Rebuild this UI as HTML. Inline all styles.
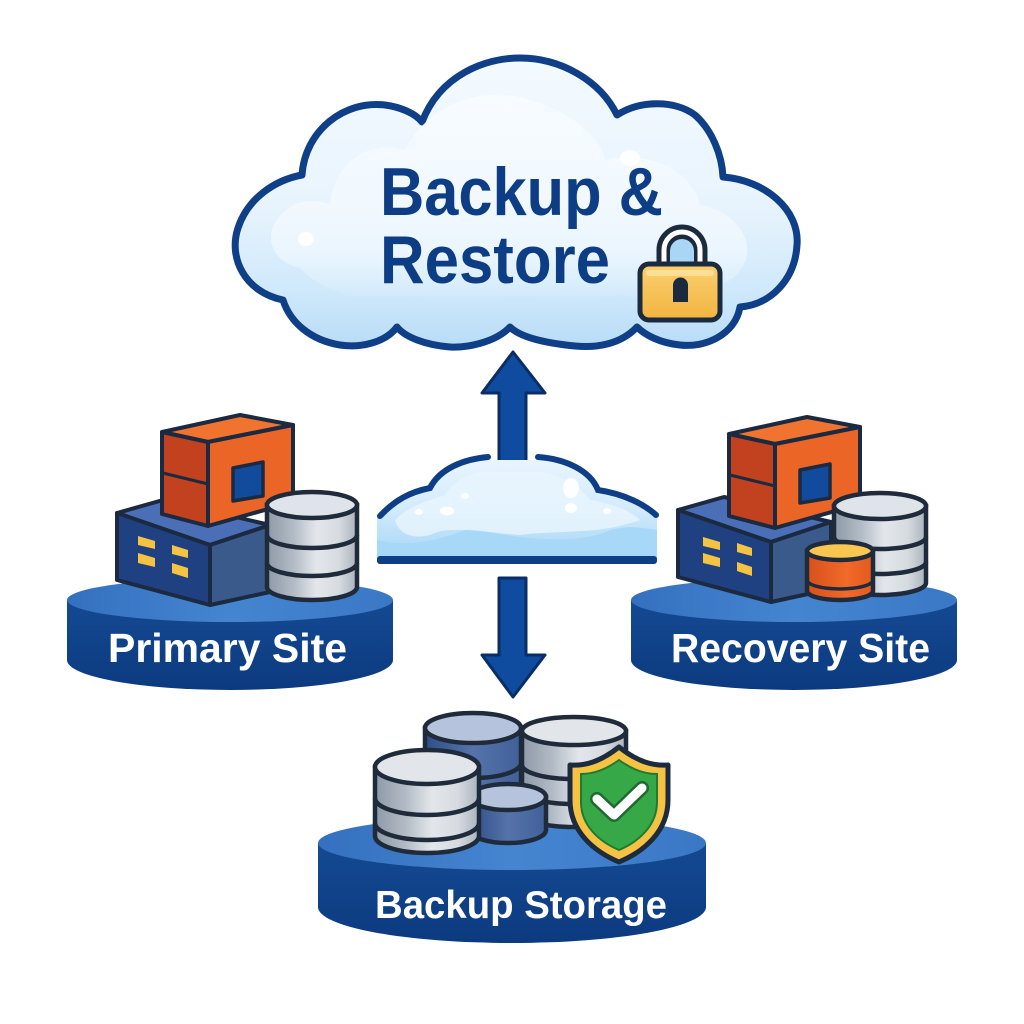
<!DOCTYPE html>
<html>
<head>
<meta charset="utf-8">
<style>
html,body{margin:0;padding:0;background:#fff;}
svg{display:block;}
text{font-family:"Liberation Sans",Arial,sans-serif;font-weight:bold;}
</style>
</head>
<body>
<svg width="1024" height="1024" viewBox="0 0 1024 1024" xmlns="http://www.w3.org/2000/svg">
<defs>
  <linearGradient id="cloudG" x1="0" y1="0" x2="0" y2="1">
    <stop offset="0" stop-color="#f4faff"/>
    <stop offset="0.5" stop-color="#e8f4fd"/>
    <stop offset="0.8" stop-color="#d0e9fb"/>
    <stop offset="1" stop-color="#b8dcf7"/>
  </linearGradient>
  <linearGradient id="hiG" x1="0" y1="0" x2="0" y2="1">
    <stop offset="0" stop-color="#f8fcff" stop-opacity="0.9"/>
    <stop offset="0.75" stop-color="#f2f9ff" stop-opacity="0.7"/>
    <stop offset="1" stop-color="#eef7fe" stop-opacity="0"/>
  </linearGradient>
  <linearGradient id="smallCloudG" x1="0" y1="0" x2="0" y2="1">
    <stop offset="0" stop-color="#e8f5fe"/>
    <stop offset="0.5" stop-color="#d2ebfc"/>
    <stop offset="1" stop-color="#a4d4f6"/>
  </linearGradient>
  <linearGradient id="platTop" x1="0" y1="0" x2="1" y2="0">
    <stop offset="0" stop-color="#3470bf"/>
    <stop offset="0.5" stop-color="#4585d0"/>
    <stop offset="1" stop-color="#3a78c6"/>
  </linearGradient>
  <linearGradient id="platSide" x1="0" y1="0" x2="0" y2="1">
    <stop offset="0" stop-color="#144a93"/>
    <stop offset="1" stop-color="#0c3a7f"/>
  </linearGradient>
  <linearGradient id="grayCyl" x1="0" y1="0" x2="1" y2="0">
    <stop offset="0" stop-color="#8e99a7"/>
    <stop offset="0.3" stop-color="#b3bcc6"/>
    <stop offset="0.55" stop-color="#e3e7eb"/>
    <stop offset="0.8" stop-color="#d6dbe0"/>
    <stop offset="1" stop-color="#a9b2bc"/>
  </linearGradient>
  <linearGradient id="blueCyl" x1="0" y1="0" x2="1" y2="0">
    <stop offset="0" stop-color="#2f4e87"/>
    <stop offset="0.5" stop-color="#5673aa"/>
    <stop offset="1" stop-color="#40609a"/>
  </linearGradient>
  <linearGradient id="orangeCyl" x1="0" y1="0" x2="1" y2="0">
    <stop offset="0" stop-color="#d8501c"/>
    <stop offset="0.6" stop-color="#f06a28"/>
    <stop offset="1" stop-color="#e25a20"/>
  </linearGradient>
  <linearGradient id="lockG" x1="0" y1="0" x2="0" y2="1">
    <stop offset="0" stop-color="#fbd070"/>
    <stop offset="1" stop-color="#f2b440"/>
  </linearGradient>
</defs>

<rect width="1024" height="1024" fill="#ffffff"/>

<!-- ========== BIG CLOUD ========== -->
<path d="M283,300 C245,292 228,258 238,228 C248,198 275,180 302,175
         C305,130 345,100 385,105 C400,107 415,113 422,122
         C440,75 485,58 520,58 C560,58 600,80 617,115
         C640,100 675,100 695,115 C712,130 722,155 723,177
         C765,180 800,210 797,245 C795,280 770,305 740,307
         C735,335 705,348 680,345 C660,343 645,335 637,327
         C620,345 595,348 575,346 C545,343 520,337 510,327
         C495,343 465,348 450,347 C425,345 405,337 397,327
         C385,343 360,348 340,345 C310,340 290,322 283,300 Z"
      fill="url(#cloudG)" stroke="#0f3f87" stroke-width="7" stroke-linejoin="round"/>
<!-- inner highlight -->
<path d="M300,268 C270,262 262,232 282,214 C295,200 315,198 330,205 C335,160 370,140 405,150 C430,100 490,85 530,100 C570,112 600,135 605,160 C640,150 690,165 700,205 C730,210 755,235 745,262 C735,285 710,292 690,288 C670,300 640,302 620,294 C590,306 550,304 520,296 C490,306 440,306 410,296 C380,304 330,300 300,268 Z"
      fill="url(#hiG)"/>
<ellipse cx="306" cy="239" rx="8" ry="7" fill="#ffffff"/>
<ellipse cx="630" cy="158" rx="10" ry="8" fill="#ffffff" opacity="0.9"/>

<text x="380" y="215" font-size="68" fill="#0d3d84" textLength="283" lengthAdjust="spacingAndGlyphs">Backup &amp;</text>
<text x="380" y="283" font-size="68" fill="#0d3d84" textLength="230" lengthAdjust="spacingAndGlyphs">Restore</text>

<!-- Lock -->
<path d="M664,268 L664,250 A18,18 0 0 1 700,250 L700,268" fill="none" stroke="#1c2a3e" stroke-width="15"/>
<path d="M664,268 L664,250 A18,18 0 0 1 700,250 L700,268" fill="none" stroke="#ffffff" stroke-width="5"/>
<path d="M670,262 L670,251 A12,12 0 0 1 694,251 L694,262 Z" fill="#a9d6f5"/>
<rect x="640" y="264" width="80" height="56" rx="9" fill="url(#lockG)" stroke="#1c2a3e" stroke-width="5"/>
<rect x="646" y="270" width="68" height="6" rx="3" fill="#fde3a0" opacity="0.8"/>
<path d="M673,302 L673,285 A7.5,7.5 0 0 1 688,285 L688,302 Z" fill="#1c2a3e"/>

<!-- ========== ARROWS ========== -->
<path d="M513,352 L545,393 L526,393 L526,470 L499,470 L499,393 L482,393 Z" fill="#0f4b9f" stroke="#0a2d66" stroke-width="3" stroke-linejoin="round"/>
<path d="M513,697 L545,655 L526,655 L526,578 L499,578 L499,655 L482,655 Z" fill="#0f4b9f" stroke="#0a2d66" stroke-width="3" stroke-linejoin="round"/>

<!-- ========== SMALL CLOUD ========== -->
<path d="M377,560 L377,515 C385,505 405,495 430,490 C440,470 465,460 490,460 L538,460 C565,462 590,472 600,492 C625,495 645,505 657,515 L657,560 Z" fill="url(#smallCloudG)"/>
<path d="M377,560 L377,540 C410,548 440,540 470,528 C520,540 580,545 610,530 C630,525 645,528 657,530 L657,560 Z" fill="#a8d8f8"/>
<path d="M395,520 C410,505 430,500 445,495 C455,478 475,470 495,472 L540,472 C560,475 580,485 590,500 C610,503 630,510 640,520 C600,535 560,530 520,535 C480,532 450,525 430,535 C410,540 398,532 395,520 Z" fill="#e8f5fe" opacity="0.8"/>
<ellipse cx="447" cy="511" rx="7" ry="4.5" fill="#ffffff"/>
<ellipse cx="419" cy="512" rx="4" ry="3" fill="#ffffff"/>
<ellipse cx="465" cy="496" rx="4" ry="3" fill="#ffffff"/>
<ellipse cx="571" cy="488" rx="8" ry="10" fill="#ffffff" opacity="0.9"/>
<ellipse cx="571" cy="508" rx="6" ry="5" fill="#ffffff"/>
<ellipse cx="607" cy="511" rx="4" ry="3" fill="#ffffff"/>
<path d="M380,516 C395,500 410,492 430,488 C440,468 465,459 488,457" fill="none" stroke="#0e3f86" stroke-width="6" stroke-linecap="round"/>
<path d="M538,457 C565,459 590,470 598,490 C625,494 645,505 656,515" fill="none" stroke="#0e3f86" stroke-width="6" stroke-linecap="round"/>
<rect x="377" y="556" width="280" height="8" rx="3" fill="#0e3f86"/>

<!-- ========== PRIMARY SITE ========== -->
<g>
  <path d="M67,600 L67,660 A163,30 0 0 0 393,660 L393,600 Z" fill="url(#platSide)"/>
  <ellipse cx="230" cy="600" rx="163" ry="22" fill="url(#platTop)"/>
  <text x="108" y="662" font-size="41" fill="#ffffff" textLength="239" lengthAdjust="spacingAndGlyphs">Primary Site</text>
</g>
<g stroke="#1b2a40" stroke-width="4" stroke-linejoin="round">
  <polygon points="117,513 163,500 270,525 210,545" fill="#4b6fb7"/>
  <polygon points="210,545 270,525 270,592 210,605" fill="#3b5a8c"/>
  <polygon points="117,513 210,545 210,605 117,580" fill="#1f4182"/>
  <polygon points="162,432 240,415 293,425 208,442" fill="#f07430"/>
  <polygon points="162,432 208,442 208,526 162,514" fill="#c2411e"/>
  <polygon points="208,442 293,425 293,502 208,526" fill="#ea6526"/>
  <line x1="163" y1="473" x2="208" y2="484" stroke-width="3"/>
  <polygon points="233,468 263,462 263,496 233,501" fill="#124a9c" stroke-width="3.5"/>
</g>
<g fill="#f5c342">
  <polygon points="138,536 155,541 155,549 138,545"/>
  <polygon points="138,553 155,558 155,567 138,563"/>
  <polygon points="172,545 188,550 188,558 172,554"/>
  <polygon points="172,563 188,568 188,578 172,573"/>
</g>
<g stroke="#1f2b3b" stroke-width="4.5">
  <path d="M267,505 L267,587 A45,13 0 0 0 357,587 L357,505 Z" fill="url(#grayCyl)"/>
  <ellipse cx="312" cy="505" rx="45" ry="13" fill="#dfe4ea"/>
  <path d="M267,535 A45,13 0 0 0 357,535" fill="none"/>
  <path d="M267,563 A45,13 0 0 0 357,563" fill="none"/>
</g>

<!-- ========== RECOVERY SITE ========== -->
<g>
  <path d="M631,600 L631,660 A163,30 0 0 0 957,660 L957,600 Z" fill="url(#platSide)"/>
  <ellipse cx="794" cy="600" rx="163" ry="22" fill="url(#platTop)"/>
  <text x="671" y="662" font-size="41" fill="#ffffff" textLength="259" lengthAdjust="spacingAndGlyphs">Recovery Site</text>
</g>
<g stroke="#1b2a40" stroke-width="4" stroke-linejoin="round">
  <g transform="translate(561,-3)">
    <polygon points="117,513 163,500 270,525 210,545" fill="#4b6fb7"/>
    <polygon points="210,545 270,525 270,592 210,605" fill="#3b5a8c"/>
    <polygon points="117,513 210,545 210,605 117,580" fill="#1f4182"/>
  </g>
  <g transform="translate(567,2)">
    <polygon points="162,432 240,415 293,425 208,442" fill="#f07430"/>
    <polygon points="162,432 208,442 208,526 162,514" fill="#c2411e"/>
    <polygon points="208,442 293,425 293,502 208,526" fill="#ea6526"/>
    <line x1="163" y1="473" x2="208" y2="484" stroke-width="3"/>
    <polygon points="233,468 263,462 263,496 233,501" fill="#124a9c" stroke-width="3.5"/>
  </g>
</g>
<g fill="#f5c342">
  <polygon points="703,537 720,542 720,550 703,546"/>
  <polygon points="703,553 720,558 720,567 703,563"/>
  <polygon points="737,543 752,548 752,556 737,552"/>
  <polygon points="737,562 752,567 752,576 737,571"/>
</g>
<g stroke="#1f2b3b" stroke-width="4.5">
  <path d="M834,506 L834,583 A46,12 0 0 0 926,583 L926,506 Z" fill="url(#grayCyl)"/>
  <ellipse cx="880" cy="506" rx="46" ry="13" fill="#dfe4ea"/>
  <path d="M834,537 A46,12 0 0 0 926,537" fill="none"/>
  <path d="M834,562 A46,12 0 0 0 926,562" fill="none"/>
</g>
<g stroke="#1f2b3b" stroke-width="4.5">
  <path d="M807,551 L807,591 A33,9 0 0 0 873,591 L873,551 Z" fill="url(#orangeCyl)"/>
  <ellipse cx="840" cy="551" rx="33" ry="9" fill="#f9c650"/>
  <path d="M807,580 A33,9 0 0 0 873,580" fill="none" stroke-width="3.5"/>
</g>

<!-- ========== BACKUP STORAGE ========== -->
<g>
  <path d="M318,843 L318,907 A194,36 0 0 0 706,907 L706,843 Z" fill="url(#platSide)"/>
  <ellipse cx="512" cy="843" rx="194" ry="27" fill="url(#platTop)"/>
  <text x="375" y="918" font-size="39" fill="#ffffff" textLength="292" lengthAdjust="spacingAndGlyphs">Backup Storage</text>
</g>
<g stroke="#1f2b3b" stroke-width="4.5">
  <path d="M425,728 L425,815 A48,15 0 0 0 521,815 L521,728 Z" fill="url(#blueCyl)"/>
  <ellipse cx="473" cy="728" rx="48" ry="15" fill="#b5c4dc"/>
  <path d="M425,763 A48,15 0 0 0 521,763" fill="none"/>
  <path d="M522,731 L522,813 A52,14 0 0 0 626,813 L626,731 Z" fill="url(#grayCyl)"/>
  <ellipse cx="574" cy="731" rx="52" ry="14" fill="#e2e6eb"/>
  <path d="M522,765 A52,14 0 0 0 626,765" fill="none"/>
  <path d="M522,790 A52,14 0 0 0 626,790" fill="none"/>
  <path d="M470,797 L470,830 A38,13 0 0 0 546,830 L546,797 Z" fill="url(#blueCyl)"/>
  <ellipse cx="508" cy="797" rx="38" ry="13" fill="#b5c4dc"/>
  <path d="M375,767 L375,836 A52,17 0 0 0 479,836 L479,767 Z" fill="url(#grayCyl)"/>
  <ellipse cx="427" cy="767" rx="52" ry="17" fill="#e2e6eb"/>
  <path d="M375,798 A52,17 0 0 0 479,798" fill="none"/>
  <path d="M375,823 A52,17 0 0 0 479,823" fill="none"/>
</g>
<path d="M619,747 C600,762 585,766 570,765 L570,800 C570,832 595,852 619,862 C643,852 668,832 668,800 L668,765 C653,766 638,762 619,747 Z" fill="#f6c244" stroke="#1c2b3e" stroke-width="5" stroke-linejoin="round"/>
<path d="M619,760 C604,771 592,774 581,774 L581,802 C581,826 600,842 619,850 C638,842 657,826 657,802 L657,774 C646,774 634,771 619,760 Z" fill="#37a848" stroke="#1f7a34" stroke-width="2"/>
<polyline points="597,799 614,815 642,788" fill="none" stroke="#1f6a30" stroke-width="14" stroke-linecap="round" stroke-linejoin="round"/>
<polyline points="597,799 614,815 642,788" fill="none" stroke="#ffffff" stroke-width="9" stroke-linecap="round" stroke-linejoin="round"/>
</svg>
</body>
</html>
